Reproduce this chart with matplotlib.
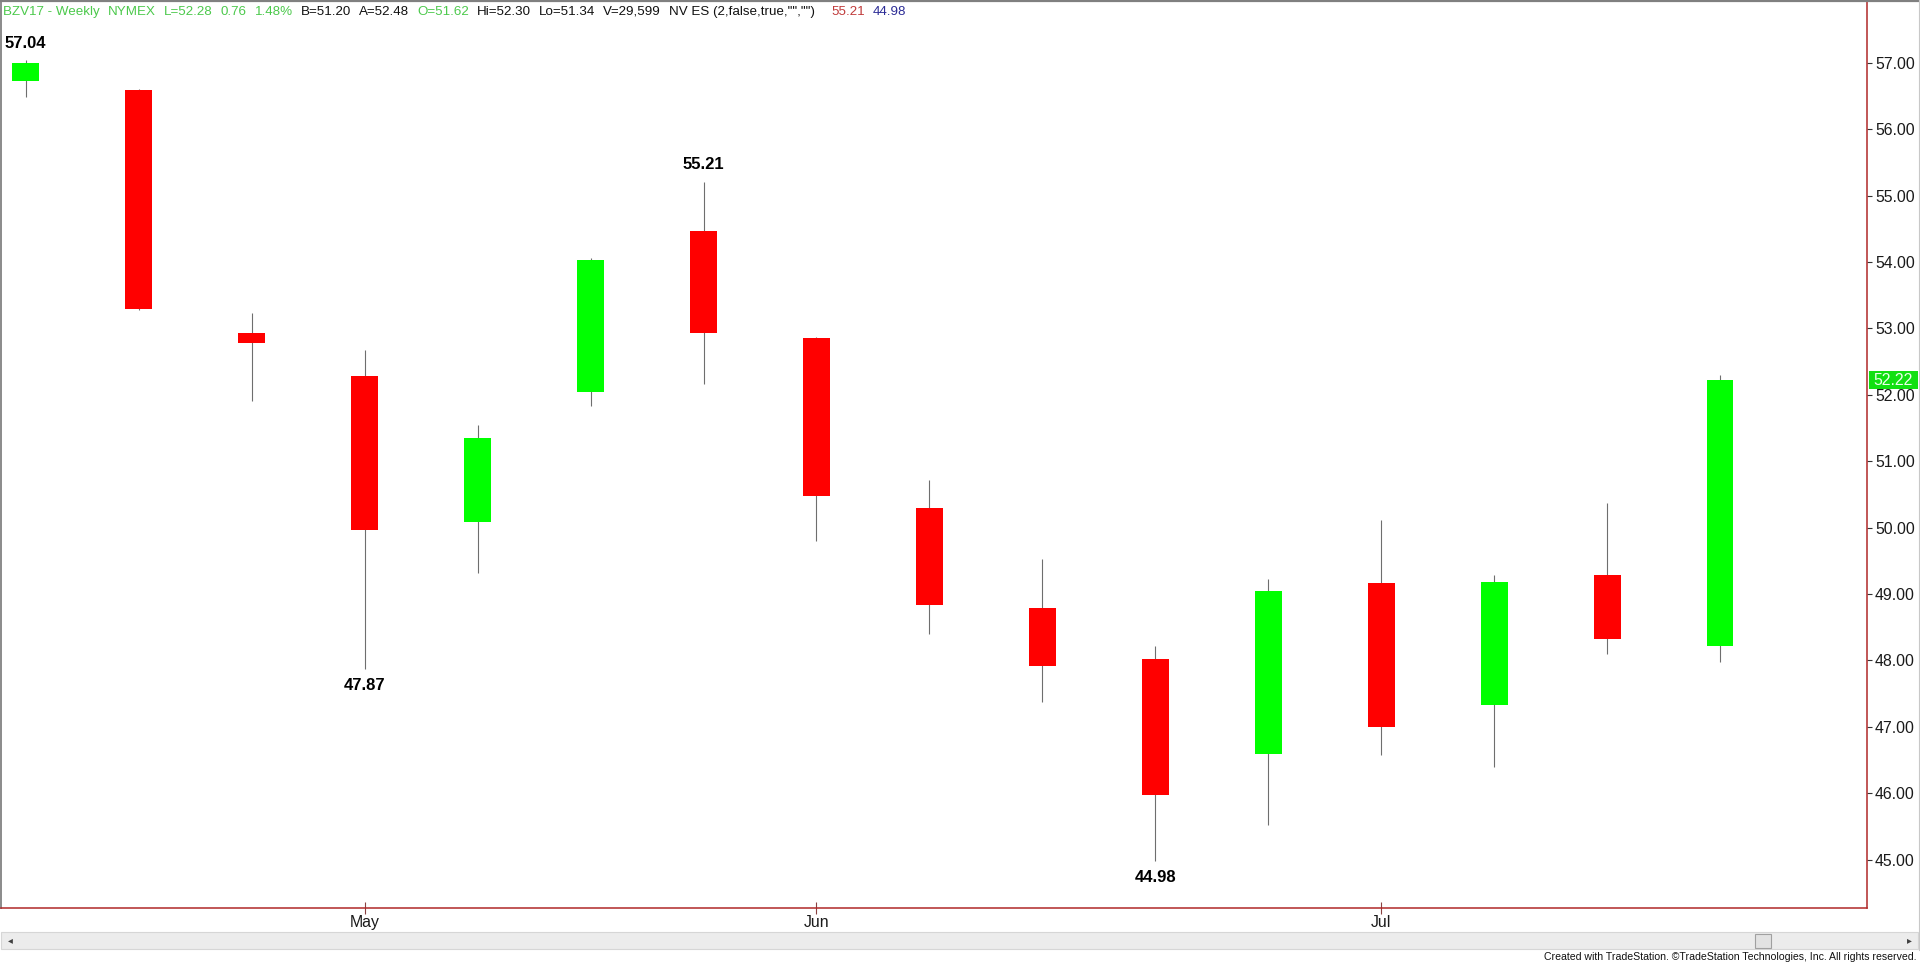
import matplotlib
matplotlib.use('Agg')
import matplotlib.pyplot as plt
from matplotlib.patches import Rectangle
from matplotlib.lines import Line2D
from matplotlib.transforms import blended_transform_factory

plt.rcParams['font.family'] = ['Liberation Sans', 'DejaVu Sans']

# weekly bars (Friday dates), BZV17 NYMEX
weeks = ['Apr 14', 'Apr 21', 'Apr 28', 'May 05', 'May 12', 'May 19', 'May 26', 'Jun 02',
         'Jun 09', 'Jun 16', 'Jun 23', 'Jun 30', 'Jul 07', 'Jul 14', 'Jul 21', 'Jul 28']
opens = [56.73, 56.59, 52.93, 52.28, 50.08, 52.04, 54.46, 52.86,
         50.29, 48.79, 48.02, 46.59, 49.16, 47.33, 49.28, 48.21]
highs = [57.04, 56.60, 53.23, 52.68, 51.54, 54.06, 55.21, 52.87,
         50.72, 49.52, 48.21, 49.23, 50.11, 49.28, 50.37, 52.30]
lows = [56.49, 53.28, 51.91, 47.87, 49.31, 51.83, 52.17, 49.80,
        48.40, 47.37, 44.98, 45.52, 46.57, 46.40, 48.10, 47.98]
closes = [57.00, 53.29, 52.78, 49.96, 51.35, 54.03, 52.93, 50.48,
          48.84, 47.91, 45.98, 49.04, 47.00, 49.18, 48.32, 52.22]

# swing points labelled on the chart
pivot_idx = [0, 3, 6, 10]
pivot_kind = ['high', 'low', 'high', 'low']

month_idx = [3, 7, 12]
month_labels = ['May', 'Jun', 'Jul']
price_ticks = [45, 46, 47, 48, 49, 50, 51, 52, 53, 54, 55, 56, 57]

header_parts = ['BZV17 - Weekly', 'NYMEX', 'L=52.28', '0.76', '1.48%', 'B=51.20', 'A=52.48',
                'O=51.62', 'Hi=52.30', 'Lo=51.34', 'V=29,599', 'NV ES (2,false,true,"","")',
                '55.21', '44.98']
header_colors = ['g', 'g', 'g', 'g', 'g', 'k', 'k', 'g', 'k', 'k', 'k', 'k', 'r', 'b']

UP = '#00ff00'
DOWN = '#ff0000'
WICK = '#6e6e6e'
FRAME_RED = '#b02828'
W, H = 1920, 964

fig = plt.figure(figsize=(19.2, 9.64), dpi=100)
ax = fig.add_axes([1 / W, 1 - 908 / H, 1866 / W, 907 / H])
ax.set_xlim(-0.219, 16.30)
ax.set_ylim(44.272, 57.93)

bw = 0.236
for i, (o, h, l, c) in enumerate(zip(opens, highs, lows, closes)):
    col = UP if c >= o else DOWN
    ax.vlines(i, l, h, color=WICK, lw=0.8, zorder=1)
    ax.add_patch(Rectangle((i - bw / 2, min(o, c)), bw, abs(c - o),
                           facecolor=col, edgecolor='none', zorder=2))

for i, kind in zip(pivot_idx, pivot_kind):
    v = highs[i] if kind == 'high' else lows[i]
    dy = 12.2 if kind == 'high' else -12.0
    ax.annotate(f'{v:.2f}', xy=(i, v), xytext=(0, dy), textcoords='offset points',
                ha='center', va='center', fontsize=12, fontweight='bold', color='black')

# axes styling
ax.yaxis.tick_right()
ax.set_yticks(price_ticks)
ax.set_yticklabels([f'{p:.2f}' for p in price_ticks])
ax.tick_params(axis='y', length=3.8, width=0.8, color='#333333', pad=2.0,
               labelsize=11.4, labelcolor='#1a1a1a')
ax.set_xticks(month_idx)
ax.set_xticklabels(month_labels)
ax.tick_params(axis='x', direction='inout', length=9, width=0.8, color='#8a4040',
               pad=0.5, labelsize=11.4, labelcolor='#1a1a1a')
for side in ['right', 'bottom']:
    ax.spines[side].set_color(FRAME_RED)
    ax.spines[side].set_linewidth(1.1)
for side in ['left', 'top']:
    ax.spines[side].set_color('#8a8a8a')
    ax.spines[side].set_linewidth(1.4)

# last price marker on the price scale
tr = blended_transform_factory(ax.transAxes, ax.transData)
last = closes[-1]
box_h = 18 / 66.33
ax.add_patch(Rectangle((1 + 2 / 1866, last - box_h / 2), 49 / 1866, box_h, transform=tr,
                       facecolor='#12e012', edgecolor='none', clip_on=False, zorder=5))
ax.text(1 + 26.5 / 1866, last, f'{last:.2f}', transform=tr, ha='center', va='center',
        fontsize=11.4, color='#eaffea', zorder=6, clip_on=False)

# header line, segments chained left to right
color_map = {'g': '#4cc94c', 'k': '#111111', 'r': '#c03a3a', 'b': '#2c2c96'}
renderer = fig.canvas.get_renderer()
x = 3.3
for k, (txt, c) in enumerate(zip(header_parts, header_colors)):
    if txt == '55.21':
        x += 8
    t = fig.text(x / W, 1 - 12 / H, txt, ha='left', va='center', fontsize=9.6,
                 color=color_map[c])
    x = t.get_window_extent(renderer).x1 + 8

# figure frame, scrollbar and footer
fig.add_artist(Line2D([0, 1], [1 - 0.8 / H, 1 - 0.8 / H], color='#808080', lw=1.6))
fig.add_artist(Line2D([1918.5 / W, 1918.5 / W], [1 - 950 / H, 1], color='#c8c8c8', lw=0.8))
fig.add_artist(Rectangle((1 / W, 1 - 949 / H), 1917 / W, 17.3 / H, transform=fig.transFigure,
                         facecolor='#ececec', edgecolor='#d6d6d6', lw=0.8))
fig.add_artist(Rectangle((1755 / W, 1 - 947.5 / H), 16 / W, 14 / H, transform=fig.transFigure,
                         facecolor='#e2e2e2', edgecolor='#a0a0a0', lw=0.8))
fig.text(10 / W, 1 - 940.5 / H, '\u25c2', ha='center', va='center', fontsize=7,
         color='#404040', family=['DejaVu Sans'])
fig.text(1909 / W, 1 - 940.5 / H, '\u25b8', ha='center', va='center', fontsize=7,
         color='#404040', family=['DejaVu Sans'])
fig.text(1917 / W, 1 - 956.5 / H,
         'Created with TradeStation. \u00a9TradeStation Technologies, Inc. All rights reserved.',
         ha='right', va='center', fontsize=7.6, color='#111111')

fig.savefig('out.png', dpi=100, facecolor='white')
